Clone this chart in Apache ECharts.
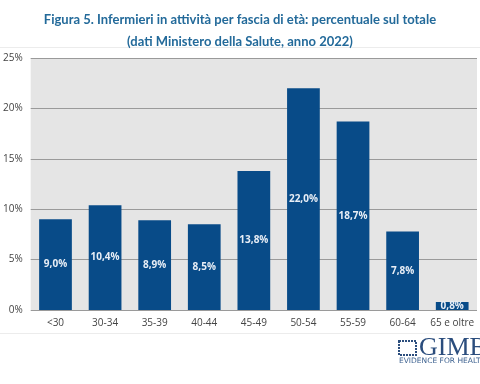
<!DOCTYPE html>
<html><head><meta charset="utf-8">
<script src="https://cdn.jsdelivr.net/npm/echarts@6/dist/echarts.min.js"></script>
<style>html,body{margin:0;padding:0;background:#fff}#c{width:480px;height:384px}</style>
</head><body><div id="c"></div>
<script>
const categories = ['<30','30-34','35-39','40-44','45-49','50-54','55-59','60-64','65 e oltre'];
const values = [9.0, 10.4, 8.9, 8.5, 13.8, 22.0, 18.7, 7.8, 0.8];
const titleLines = ['Figura 5. Infermieri in attività per fascia di età: percentuale sul totale','(dati Ministero della Salute, anno 2022)'];

const chart = echarts.init(document.getElementById('c'), null, {renderer:'canvas'});
chart.setOption({
  animation:false,
  backgroundColor:'#fff',
  title:{text:titleLines.join('\n'), left:'center', top:4,
    textStyle:{fontFamily:'Lato', fontWeight:'bold', fontSize:13, color:'#236a9a', lineHeight:22}},
  grid:{left:30, right:3, top:58, bottom:74, show:true, backgroundColor:'#e5e5e5', borderWidth:0},
  xAxis:{type:'category', data:categories,
    axisLine:{show:false}, axisTick:{show:false},
    axisLabel:{color:'#444', fontSize:10, fontFamily:'Open Sans', margin:8, interval:0}},
  yAxis:{type:'value', min:0, max:25, interval:5,
    axisLabel:{formatter:'{value}%', color:'#444', fontSize:10, fontFamily:'Open Sans', margin:8},
    splitLine:{lineStyle:{color:'#9a9a9a', width:1}}},
  series:[{type:'bar', data:values, barWidth:'66%',
    itemStyle:{color:'#084b88'},
    label:{show:true, position:'inside', color:'#e8eef6', fontWeight:'bold', fontSize:10, fontFamily:'Open Sans',
      formatter:p=>p.value.toFixed(1).replace('.',',')+'%'}}],
  graphic:[
    {type:'line', shape:{x1:0,y1:47.5,x2:480,y2:47.5}, style:{stroke:'#ececec', lineWidth:1}},
    {type:'line', shape:{x1:0,y1:333.5,x2:480,y2:333.5}, style:{stroke:'#ececec', lineWidth:1}},
    {type:'text', left:419, top:335, style:{text:'GIMBE', font:'26px "Liberation Serif"', fill:'#2b4d7d'}},
    {type:'text', left:399, top:357, style:{text:'EVIDENCE FOR HEALTH', font:'7.5px "DejaVu Sans"', fill:'#3f6391'}},
    {type:'rect', shape:{x:399,y:341,width:17,height:14}, style:{fill:'none', stroke:'#2b4d7d', lineWidth:2, lineDash:[2,1]}}
  ]
});
</script></body></html>
